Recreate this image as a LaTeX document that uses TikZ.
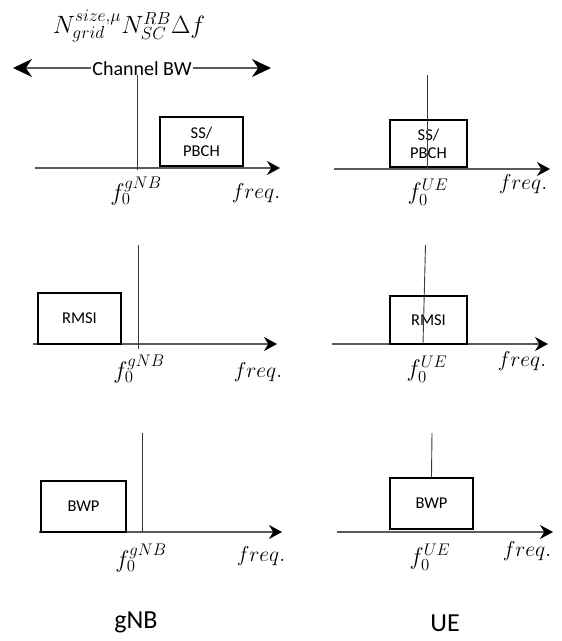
\RequirePackage{fix-cm}
\documentclass[tikz,border=0pt]{standalone}
\usepackage{fontspec}
\setmainfont{Carlito}
\usepackage{tikz}
\usetikzlibrary{arrows.meta,positioning}
\definecolor{AxisGray}{HTML}{5A5A5A}
\definecolor{MarkGray}{HTML}{3A3A3A}

\begin{document}
\begin{tikzpicture}[x=1pt,y=-1pt,
  blk/.style={draw,line width=2.4pt,inner sep=0pt,align=center,font=\fontsize{16.5}{18}\selectfont},
  axis/.style={draw=AxisGray,line width=1.3pt,-{Stealth[length=13pt,width=14pt,black]}},
  centreline/.style={draw=MarkGray,line width=.9pt},
  lbl/.style={inner sep=0pt,font=\fontsize{21.5}{21.5}\selectfont},
  fzero/.style={inner sep=0pt,font=\fontsize{24}{24}\selectfont},
  side/.style={font=\fontsize{26}{26}\selectfont}]
\useasboundingbox (0,0) rectangle (562,641);
% header and channel bandwidth
\node[lbl,font=\fontsize{25}{25}\selectfont] (grid) at (129,26) {$N_{grid}^{size,\mu}N_{SC}^{RB}\Delta f$};
\coordinate (bwL) at (13,68);
\coordinate (bwR) at (271,68);
\draw[AxisGray,line width=1.3pt,{Stealth[length=19pt,width=18pt,black]}-{Stealth[length=19pt,width=18pt,black]}] (bwL) -- (bwR);
\node[fill=white,inner sep=1pt,font=\fontsize{20}{20}\selectfont] (bw) at (142,69) {Channel BW};
% frequency axes
\foreach \n/\xa/\xb/\y in {g1/35/280/168,u1/334/550/169,g2/33/277/344,u2/332/548/344,g3/39/282/532,u3/337/553/532}{
  \coordinate (\n s) at (\xa,\y); \coordinate (\n e) at (\xb,\y);
  \draw[axis] (\n s) -- (\n e);}
\foreach \n/\x/\y in {g1/256/193,u1/523/184,g2/258/372,u2/522/361,g3/261/556,u3/527/551}{
  \node[lbl] (fq\n) at (\x,\y) {$freq.$};}
\foreach \n/\x/\y in {g1/136/191,g2/139/369,g3/141/558}{
  \node[fzero] (f0\n) at (\x,\y) {$f_0^{gNB}$};}
\foreach \n/\x/\y in {u1/428/192,u2/427/369,u3/430/557}{
  \node[fzero] (f0\n) at (\x,\y) {$f_0^{UE}$};}
% allocations
\node[blk,minimum width=83pt,minimum height=49pt] (ssg) at (201.5,141.5) {SS/\\PBCH};
\node[blk,minimum width=77pt,minimum height=47pt] (ssu) at (428.5,143.5) {SS/\\PBCH};
\node[blk,minimum width=83pt,minimum height=51pt] (rmsig) at (79.5,318.5) {RMSI};
\node[blk,minimum width=77pt,minimum height=48pt] (rmsiu) at (428.5,320) {RMSI};
\node[blk,minimum width=85pt,minimum height=51pt] (bwpg) at (83.5,506.5) {BWP};
\node[blk,minimum width=83pt,minimum height=51pt,fill=white] (bwpu) at (431.5,503.5) {BWP};
% centre frequencies
\coordinate (cg1t) at (137,75);  \coordinate (cg1b) at (137,170);
\coordinate (cu1t) at (427,75);  \coordinate (cu1b) at (427,169);
\coordinate (cg2t) at (138,245); \coordinate (cg2b) at (138,349);
\coordinate (cu2t) at (425.5,245); \coordinate (cu2b) at (423,344);
\coordinate (cg3t) at (142,433); \coordinate (cg3b) at (142,532);
\coordinate (cu3t) at (432,433);
\draw[centreline] (cg1t) -- (cg1b);
\draw[centreline] (cu1t) -- (cu1b);
\draw[centreline] (cg2t) -- (cg2b);
\draw[centreline] (cu2t) -- (cu2b);
\draw[centreline] (cg3t) -- (cg3b);
\draw[centreline] (cu3t) -- (bwpu.north);
% sides
\node[side] (gnb) at (136,622) {gNB};
\node[side] (ue) at (445,623.5) {UE};
\end{tikzpicture}
\end{document}
